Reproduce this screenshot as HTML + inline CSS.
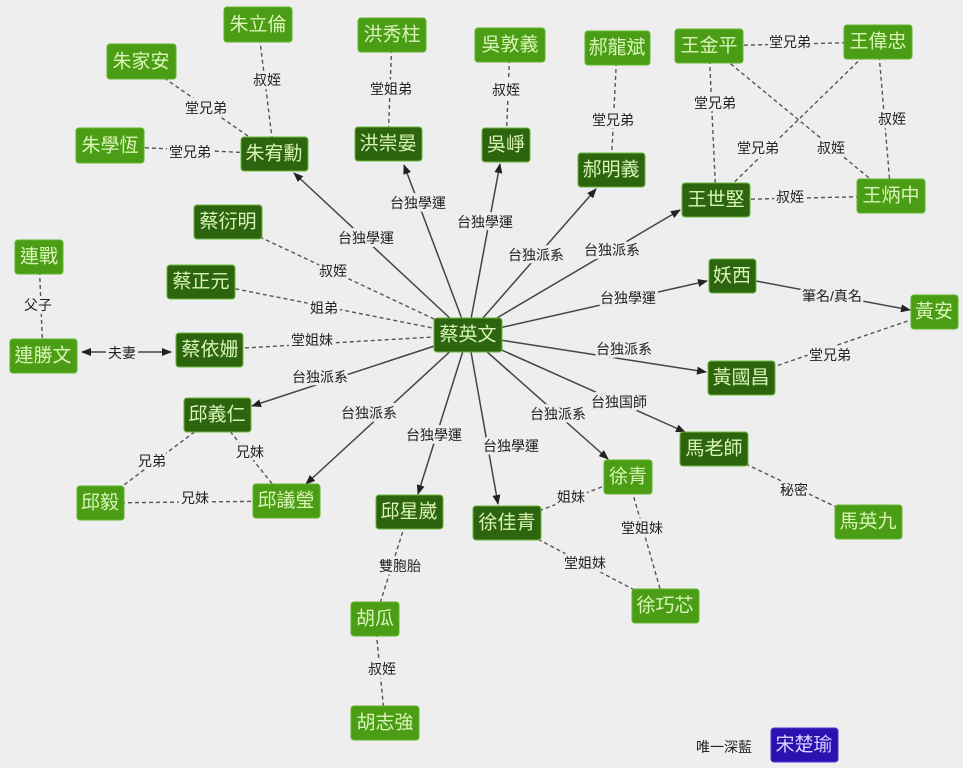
<!DOCTYPE html>
<html><head><meta charset="utf-8"><style>
html,body{margin:0;padding:0;background:#eeeeee;}
svg{display:block;}
text{font-family:"Liberation Sans","Noto Sans CJK TC",sans-serif;}
.l{font-size:14px;fill:#222;text-anchor:middle;dominant-baseline:central;paint-order:stroke;stroke:#eeeeee;stroke-width:6px;stroke-linejoin:round;}
.n{font-size:19px;fill:#d9f5b8;text-anchor:middle;dominant-baseline:central;}
.L{fill:#4c9d16;stroke:#5fb52a;stroke-width:1;}
.D{fill:#2d640e;stroke:#6bb63a;stroke-width:1;}
.s{stroke:#444;stroke-width:1.5;fill:none;}
.d{stroke:#555;stroke-width:1.4;stroke-dasharray:4 3;fill:none;}
</style></head><body>
<svg width="963" height="768" viewBox="0 0 963 768">
<defs><marker id="a" markerWidth="10" markerHeight="8" refX="9" refY="4" orient="auto" markerUnits="userSpaceOnUse"><path d="M0,0 L10,4 L0,8 z" fill="#222"/></marker>
<marker id="b" markerWidth="10" markerHeight="8" refX="1" refY="4" orient="auto" markerUnits="userSpaceOnUse"><path d="M10,0 L0,4 L10,8 z" fill="#222"/></marker></defs>
<rect width="963" height="768" fill="#eeeeee"/>
<!-- solid arrows from center -->
<g class="s">
<line x1="468" y1="335" x2="294" y2="173" marker-end="url(#a)"/>
<line x1="468" y1="335" x2="404" y2="165" marker-end="url(#a)"/>
<line x1="468" y1="335" x2="500" y2="164" marker-end="url(#a)"/>
<line x1="468" y1="335" x2="596" y2="189" marker-end="url(#a)"/>
<line x1="468" y1="335" x2="680" y2="210" marker-end="url(#a)"/>
<line x1="468" y1="335" x2="707" y2="281" marker-end="url(#a)"/>
<line x1="468" y1="335" x2="706" y2="372" marker-end="url(#a)"/>
<line x1="468" y1="335" x2="685" y2="432" marker-end="url(#a)"/>
<line x1="468" y1="335" x2="608" y2="459" marker-end="url(#a)"/>
<line x1="468" y1="335" x2="498" y2="504" marker-end="url(#a)"/>
<line x1="468" y1="335" x2="418" y2="494" marker-end="url(#a)"/>
<line x1="468" y1="335" x2="306" y2="484" marker-end="url(#a)"/>
<line x1="468" y1="335" x2="252" y2="406" marker-end="url(#a)"/>
<line x1="756" y1="281" x2="910" y2="310" marker-end="url(#a)"/>
<line x1="82" y1="352" x2="171" y2="352" marker-start="url(#b)" marker-end="url(#a)"/>
</g>
<g class="d">
<line x1="228" y1="222" x2="468" y2="335"/>
<line x1="201" y1="282" x2="468" y2="335"/>
<line x1="210" y1="350" x2="468" y2="335"/>
<line x1="141" y1="62" x2="274" y2="154"/>
<line x1="258" y1="25" x2="274" y2="154"/>
<line x1="110" y1="146" x2="274" y2="154"/>
<line x1="392" y1="35" x2="388" y2="144"/>
<line x1="510" y1="45" x2="506" y2="145"/>
<line x1="617" y1="48" x2="611" y2="170"/>
<line x1="709" y1="46" x2="878" y2="42"/>
<line x1="709" y1="46" x2="716" y2="200"/>
<line x1="878" y1="42" x2="716" y2="200"/>
<line x1="709" y1="46" x2="891" y2="196"/>
<line x1="878" y1="42" x2="891" y2="196"/>
<line x1="716" y1="200" x2="891" y2="196"/>
<line x1="934" y1="312" x2="741" y2="378"/>
<line x1="39" y1="257" x2="43" y2="356"/>
<line x1="217" y1="415" x2="100" y2="503"/>
<line x1="217" y1="415" x2="286" y2="501"/>
<line x1="100" y1="503" x2="286" y2="501"/>
<line x1="409" y1="512" x2="375" y2="619"/>
<line x1="375" y1="619" x2="385" y2="723"/>
<line x1="628" y1="477" x2="507" y2="523"/>
<line x1="628" y1="477" x2="665" y2="606"/>
<line x1="507" y1="523" x2="665" y2="606"/>
<line x1="714" y1="449" x2="868" y2="522"/>
</g>
<!-- edge labels -->
<g>
<text class="l" x="366" y="238">台独學運</text>
<text class="l" x="418" y="203">台独學運</text>
<text class="l" x="485" y="222">台独學運</text>
<text class="l" x="536" y="255">台独派系</text>
<text class="l" x="612" y="250">台独派系</text>
<text class="l" x="628" y="298">台独學運</text>
<text class="l" x="624" y="349">台独派系</text>
<text class="l" x="619" y="402">台独国師</text>
<text class="l" x="558" y="414">台独派系</text>
<text class="l" x="511" y="446">台独學運</text>
<text class="l" x="434" y="435">台独學運</text>
<text class="l" x="369" y="413">台独派系</text>
<text class="l" x="320" y="377">台独派系</text>
<text class="l" x="333" y="271">叔姪</text>
<text class="l" x="324" y="308">姐弟</text>
<text class="l" x="312" y="340">堂姐妹</text>
<text class="l" x="206" y="108">堂兄弟</text>
<text class="l" x="267" y="80">叔姪</text>
<text class="l" x="190" y="152">堂兄弟</text>
<text class="l" x="391" y="89">堂姐弟</text>
<text class="l" x="506" y="90">叔姪</text>
<text class="l" x="613" y="120">堂兄弟</text>
<text class="l" x="790" y="42">堂兄弟</text>
<text class="l" x="715" y="103">堂兄弟</text>
<text class="l" x="758" y="148">堂兄弟</text>
<text class="l" x="831" y="148">叔姪</text>
<text class="l" x="892" y="119">叔姪</text>
<text class="l" x="790" y="197">叔姪</text>
<text class="l" x="832" y="296">筆名/真名</text>
<text class="l" x="830" y="355">堂兄弟</text>
<text class="l" x="38" y="305">父子</text>
<text class="l" x="122" y="353">夫妻</text>
<text class="l" x="152" y="461">兄弟</text>
<text class="l" x="250" y="452">兄妹</text>
<text class="l" x="195" y="498">兄妹</text>
<text class="l" x="400" y="566">雙胞胎</text>
<text class="l" x="382" y="669">叔姪</text>
<text class="l" x="571" y="497">姐妹</text>
<text class="l" x="642" y="528">堂姐妹</text>
<text class="l" x="585" y="563">堂姐妹</text>
<text class="l" x="794" y="490">秘密</text>
</g>
<!-- nodes -->
<g>
<rect class="L" x="224" y="7" width="68" height="35" rx="3"/><text class="n" x="258" y="25">朱立倫</text>
<rect class="L" x="107" y="44" width="69" height="35" rx="3"/><text class="n" x="141" y="62">朱家安</text>
<rect class="L" x="76" y="128" width="68" height="35" rx="3"/><text class="n" x="110" y="146">朱學恆</text>
<rect class="D" x="241" y="137" width="67" height="34" rx="3"/><text class="n" x="274" y="154">朱宥勳</text>
<rect class="L" x="358" y="18" width="68" height="34" rx="3"/><text class="n" x="392" y="35">洪秀柱</text>
<rect class="D" x="355" y="127" width="67" height="34" rx="3"/><text class="n" x="388" y="144">洪崇晏</text>
<rect class="L" x="475" y="28" width="70" height="34" rx="3"/><text class="n" x="510" y="45">吳敦義</text>
<rect class="D" x="482" y="128" width="48" height="34" rx="3"/><text class="n" x="506" y="145">吳崢</text>
<rect class="L" x="585" y="31" width="65" height="34" rx="3"/><text class="n" x="617" y="48">郝龍斌</text>
<rect class="D" x="578" y="153" width="67" height="34" rx="3"/><text class="n" x="611" y="170">郝明義</text>
<rect class="L" x="675" y="29" width="68" height="34" rx="3"/><text class="n" x="709" y="46">王金平</text>
<rect class="L" x="844" y="25" width="68" height="34" rx="3"/><text class="n" x="878" y="42">王偉忠</text>
<rect class="D" x="682" y="183" width="68" height="34" rx="3"/><text class="n" x="716" y="200">王世堅</text>
<rect class="L" x="857" y="179" width="68" height="34" rx="3"/><text class="n" x="891" y="196">王炳中</text>
<rect class="D" x="194" y="205" width="68" height="34" rx="3"/><text class="n" x="228" y="222">蔡衍明</text>
<rect class="L" x="15" y="240" width="48" height="34" rx="3"/><text class="n" x="39" y="257">連戰</text>
<rect class="D" x="167" y="265" width="68" height="34" rx="3"/><text class="n" x="201" y="282">蔡正元</text>
<rect class="D" x="709" y="259" width="47" height="34" rx="3"/><text class="n" x="732" y="276">妖西</text>
<rect class="L" x="911" y="295" width="47" height="34" rx="3"/><text class="n" x="934" y="312">黃安</text>
<rect class="D" x="434" y="318" width="68" height="34" rx="3"/><text class="n" x="468" y="335">蔡英文</text>
<rect class="L" x="10" y="339" width="67" height="34" rx="3"/><text class="n" x="43" y="356">連勝文</text>
<rect class="D" x="176" y="333" width="67" height="34" rx="3"/><text class="n" x="210" y="350">蔡依姗</text>
<rect class="D" x="708" y="361" width="67" height="34" rx="3"/><text class="n" x="741" y="378">黃國昌</text>
<rect class="D" x="184" y="398" width="67" height="34" rx="3"/><text class="n" x="217" y="415">邱義仁</text>
<rect class="D" x="680" y="432" width="68" height="34" rx="3"/><text class="n" x="714" y="449">馬老師</text>
<rect class="L" x="604" y="460" width="48" height="34" rx="3"/><text class="n" x="628" y="477">徐青</text>
<rect class="L" x="77" y="486" width="47" height="34" rx="3"/><text class="n" x="100" y="503">邱毅</text>
<rect class="L" x="253" y="484" width="67" height="34" rx="3"/><text class="n" x="286" y="501">邱議瑩</text>
<rect class="D" x="376" y="495" width="67" height="34" rx="3"/><text class="n" x="409" y="512">邱星崴</text>
<rect class="D" x="473" y="506" width="68" height="34" rx="3"/><text class="n" x="507" y="523">徐佳青</text>
<rect class="L" x="835" y="505" width="67" height="34" rx="3"/><text class="n" x="868" y="522">馬英九</text>
<rect class="L" x="632" y="589" width="67" height="34" rx="3"/><text class="n" x="665" y="606">徐巧芯</text>
<rect class="L" x="351" y="602" width="48" height="34" rx="3"/><text class="n" x="375" y="619">胡瓜</text>
<rect class="L" x="351" y="706" width="68" height="34" rx="3"/><text class="n" x="385" y="723">胡志強</text>
<text class="l" x="724" y="747" style="stroke:none">唯一深藍</text>
<rect x="771" y="728" width="67" height="34" rx="3" fill="#2a12b0" stroke="#4a3ad0"/><text class="n" x="804" y="745" style="fill:#d8d4ff">宋楚瑜</text>
</g>
</svg>
</body></html>
